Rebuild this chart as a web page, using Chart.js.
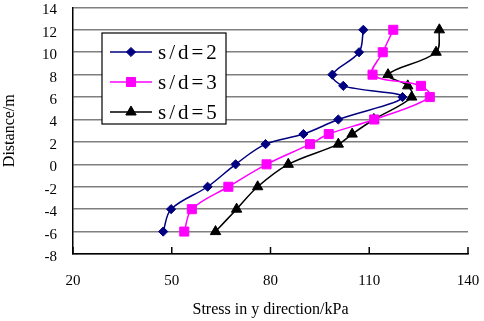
<!DOCTYPE html>
<html>
<head>
<meta charset="utf-8">
<script src="https://cdn.jsdelivr.net/npm/chart.js@4.4.0/dist/chart.umd.min.js"></script>
<style>
html, body { margin: 0; padding: 0; background: #fff; }
</style>
</head>
<body>
<canvas id="stressChart" width="484" height="321"></canvas>
<script>
// depth (m) is shared by the three curves
const depth = [12, 10, 8, 7, 6, 4, 2.7, 1.8, 0, -2, -4, -6]
const sd2 = [108.2, 106.9, 98.8, 102.1, 120.1, 100.6, 90.0, 78.5, 69.4, 60.9, 49.8, 47.4]
const sd3 = [117.3, 114.1, 111.0, 125.7, 128.4, 111.5, 97.7, 92.0, 78.8, 67.2, 56.1, 53.8]
const sd5 = [131.3, 130.3, 115.7, 121.7, 122.9, 111.4, 104.8, 100.6, 85.4, 76.1, 69.7, 63.3]
const labels = ['s/d=2', 's/d=3', 's/d=5']
const xTicks = [20, 50, 80, 110, 140]
const yTicks = [-8, -6, -4, -2, 0, 2, 4, 6, 8, 10, 12, 14]

const serif = "'Liberation Serif', 'Times New Roman', serif"
Chart.defaults.font.family = serif
Chart.defaults.color = '#000'

function toPoints(vals) {
    return vals.map((v, i) => ({ x: v, y: depth[i] }))
}

// x axis ticks point inward (up), like the original
const innerTicks = {
    id: 'innerTicks',
    afterDraw(chart) {
        const ctx = chart.ctx
        const xs = chart.scales.x
        ctx.save()
        ctx.strokeStyle = '#000'
        ctx.lineWidth = 1.5
        xTicks.forEach(v => {
            const px = xs.getPixelForValue(v)
            ctx.beginPath()
            ctx.moveTo(px, xs.top)
            ctx.lineTo(px, xs.top - 7)
            ctx.stroke()
        })
        ctx.restore()
    }
}

// boxed legend inside the plot
const boxLegend = {
    id: 'boxLegend',
    afterDraw(chart) {
        const ctx = chart.ctx
        const bx = 102, by = 33, bw = 124, bh = 91
        ctx.save()
        ctx.fillStyle = '#fff'
        ctx.fillRect(bx, by, bw, bh)
        ctx.strokeStyle = '#000'
        ctx.lineWidth = 1.2
        ctx.strokeRect(bx, by, bw, bh)
        chart.data.datasets.forEach((ds, i) => {
            const cy = by + 19 + i * 30
            ctx.strokeStyle = ds.borderColor
            ctx.lineWidth = ds.borderWidth
            ctx.beginPath()
            ctx.moveTo(bx + 8, cy)
            ctx.lineTo(bx + 50, cy)
            ctx.stroke()
            ctx.fillStyle = ds.pointBackgroundColor
            ctx.strokeStyle = ds.pointBorderColor
            ctx.lineWidth = 1
            Chart.helpers.drawPoint(ctx, { pointStyle: ds.pointStyle, radius: ds.pointRadius, borderWidth: 1, rotation: 0 }, bx + 29, cy)
            ctx.fillStyle = '#000'
            ctx.font = '21px ' + serif
            ctx.letterSpacing = '3px'
            ctx.textBaseline = 'middle'
            ctx.fillText(ds.label, bx + 56, cy + 1)
        })
        ctx.restore()
    }
}

function series(label, vals, color, style, r) {
    return {
        label: label,
        data: toPoints(vals),
        borderColor: color,
        backgroundColor: color,
        pointBackgroundColor: color,
        pointBorderColor: color,
        pointStyle: style,
        pointRadius: r,
        pointBorderWidth: 1,
        borderWidth: 1.5,
        tension: 0.35,
        showLine: true,
        fill: false
    }
}

const ctx = document.getElementById('stressChart').getContext('2d')
const stressChart = new Chart(ctx, {
    type: 'scatter',
    data: {
        datasets: [
            series(labels[0], sd2, '#000080', 'rectRot', 4.6),
            series(labels[1], sd3, '#ff00ff', 'rect', 6.4),
            series(labels[2], sd5, '#000000', 'triangle', 6)
        ]
    },
    options: {
        responsive: false,
        animation: false,
        layout: {
            padding: { left: 0, right: 16, top: 4, bottom: 0 }
        },
        plugins: {
            legend: { display: false },
            tooltip: { enabled: false }
        },
        scales: {
            x: {
                type: 'linear',
                min: 20,
                max: 140,
                afterBuildTicks: axis => { axis.ticks = xTicks.map(v => ({ value: v })) },
                afterFit: axis => {
                    axis.height = 67
                    axis.paddingLeft = 0
                    axis.paddingRight = 0
                },
                grid: { display: false },
                border: { display: true, color: '#000', width: 1.5 },
                ticks: {
                    autoSkip: false,
                    maxRotation: 0,
                    padding: 10,
                    font: { size: 15 }
                },
                title: {
                    display: true,
                    text: 'Stress in y direction/kPa',
                    font: { size: 16 },
                    padding: { top: 0, bottom: 2 }
                }
            },
            y: {
                type: 'linear',
                min: -8,
                max: 14,
                afterBuildTicks: axis => { axis.ticks = yTicks.map(v => ({ value: v })) },
                afterFit: axis => {
                    axis.width = 73
                    axis.paddingTop = 0
                    axis.paddingBottom = 0
                },
                grid: {
                    color: '#7f7f7f',
                    lineWidth: 1.5,
                    drawTicks: false
                },
                border: { display: true, color: '#000', width: 1.5 },
                ticks: {
                    autoSkip: false,
                    padding: 16,
                    labelOffset: 3,
                    font: { size: 15 }
                },
                title: {
                    display: true,
                    text: 'Distance/m',
                    font: { size: 16 },
                    padding: 0
                }
            }
        }
    },
    plugins: [innerTicks, boxLegend]
})
</script>
</body>
</html>
